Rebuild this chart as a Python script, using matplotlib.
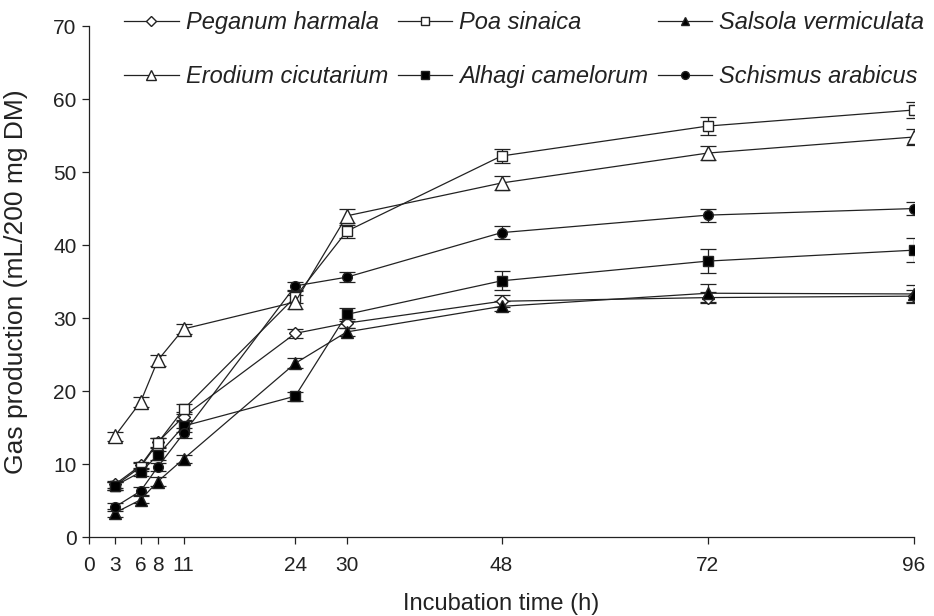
import matplotlib.pyplot as plt
import numpy as np

plt.rcParams['font.family'] = ['Liberation Sans', 'DejaVu Sans']

# incubation times (h)
hours = [3, 6, 8, 11, 24, 30, 48, 72, 96]

# gas production (mL/200 mg DM)
peganum = [7.2, 9.8, 13.0, 16.5, 27.9, 29.3, 32.3, 32.8, 33.0]
poa = [7.0, 9.6, 12.9, 17.5, 32.9, 41.9, 52.2, 56.3, 58.5]
salsola = [3.3, 5.1, 7.6, 10.7, 23.8, 28.1, 31.6, 33.4, 33.3]
erodium = [13.8, 18.5, 24.2, 28.5, 32.2, 44.0, 48.5, 52.6, 54.8]
alhagi = [7.0, 8.9, 11.2, 15.2, 19.3, 30.5, 35.1, 37.8, 39.3]
schismus = [4.1, 6.3, 9.6, 14.2, 34.4, 35.6, 41.7, 44.1, 45.0]

# standard errors (approximate)
peganum_err = [0.5, 0.5, 0.6, 0.6, 0.6, 0.6, 0.8, 0.8, 0.8]
poa_err = [0.5, 0.5, 0.7, 0.7, 0.8, 0.9, 1.0, 1.2, 1.1]
salsola_err = [0.5, 0.5, 0.6, 0.6, 0.7, 0.6, 0.7, 1.2, 1.2]
erodium_err = [0.6, 0.7, 0.8, 0.7, 0.9, 1.0, 0.9, 1.0, 1.1]
alhagi_err = [0.5, 0.5, 0.6, 0.8, 0.6, 0.9, 1.3, 1.6, 1.6]
schismus_err = [0.5, 0.5, 0.6, 0.7, 0.6, 0.7, 0.9, 0.9, 0.9]

labels = ["Peganum harmala", "Poa sinaica", "Salsola vermiculata",
          "Erodium cicutarium", "Alhagi camelorum", "Schismus arabicus"]
series = [peganum, poa, salsola, erodium, alhagi, schismus]
errors = [peganum_err, poa_err, salsola_err, erodium_err, alhagi_err, schismus_err]
markers = ['D', 's', '^', '^', 's', 'o']
faces = ['white', 'white', 'black', 'white', 'black', 'black']
msizes = [6.5, 6.5, 8, 9.5, 7, 7]

fig = plt.figure(figsize=(9.34, 6.16), dpi=100)
ax = fig.add_axes([0.0953, 0.1282, 0.8833, 0.8295])

handles = []
for y, e, m, fc, ms, lab in zip(series, errors, markers, faces, msizes, labels):
    ax.errorbar(hours, y, yerr=e, fmt='none', ecolor='#222222', elinewidth=0.9,
                capsize=5.5, capthick=0.9, zorder=2)
    h, = ax.plot(hours, y, color='#222222', lw=0.9, marker=m, markersize=ms,
                 markerfacecolor=fc, markeredgecolor='#222222', markeredgewidth=1,
                 label=lab, zorder=3)
    handles.append(h)

ax.set_xlim(0, 96)
ax.set_ylim(0, 70)
ax.set_xticks([0, 3, 6, 8, 11, 24, 30, 48, 72, 96])
ax.set_yticks(range(0, 71, 10))
ax.tick_params(axis='both', direction='out', length=5, labelsize=15, width=0.9,
               colors='#222222')
ax.tick_params(axis='x', pad=9)
ax.tick_params(axis='y', pad=4)
for s in ['top', 'right']:
    ax.spines[s].set_visible(False)
for s in ['left', 'bottom']:
    ax.spines[s].set_color('#222222')
    ax.spines[s].set_linewidth(0.9)

ax.set_xlabel('Incubation time (h)', fontsize=17, color='#222222')
ax.xaxis.set_label_coords(0.5, -0.11)
ax.set_ylabel('Gas production (mL/200 mg DM)', fontsize=19, color='#222222')
ax.yaxis.set_label_coords(-0.074, 0.5)

# legend order: fill column-wise so rows read as in the original
order = [0, 3, 1, 4, 2, 5]
leg = fig.legend([handles[i] for i in order], [labels[i] for i in order],
                 ncol=3, loc='upper left', bbox_to_anchor=(0.133, 0.982),
                 frameon=False, prop={'style': 'italic', 'size': 17},
                 handlelength=2.3, handletextpad=0.3, columnspacing=0.42,
                 labelspacing=1.3, borderpad=0, borderaxespad=0,
                 markerscale=0.8)
for t in leg.get_texts():
    t.set_color('#222222')

fig.savefig('out.png', dpi=100)
